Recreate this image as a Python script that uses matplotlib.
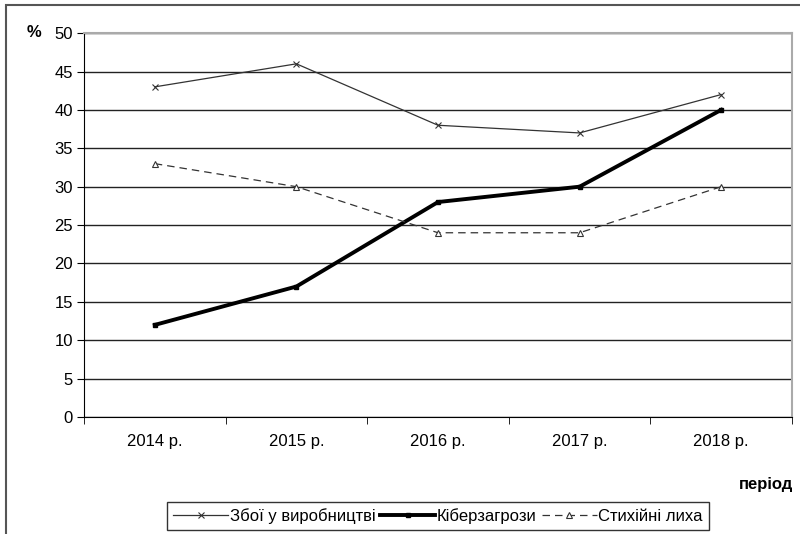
import matplotlib.pyplot as plt
from matplotlib.patches import Rectangle
from matplotlib.ticker import FixedLocator

plt.rcParams['font.family'] = ['Liberation Sans', 'DejaVu Sans']

periods = ["2014 р.", "2015 р.", "2016 р.", "2017 р.", "2018 р."]
failures = [43, 46, 38, 37, 42]
cyber = [12, 17, 28, 30, 40]
disasters = [33, 30, 24, 24, 30]

fig = plt.figure(figsize=(8, 5.34), dpi=100)
ax = fig.add_axes([0.105, 0.219, 0.885, 0.719])

# outer frame of the chart area
fig.patches.append(Rectangle((0.0075, -0.05), 1.2, 0.9906 + 0.05, transform=fig.transFigure,
                             fill=False, edgecolor="#555555", linewidth=1.5))

x = range(len(periods))
ax.plot(x, failures, color="#333333", linewidth=0.9, marker="x", markersize=4,
        markeredgewidth=0.8, label="Збої у виробництві")
ax.plot(x, cyber, color="black", linewidth=2.8, marker="s", markersize=3,
        label="Кіберзагрози")
ax.plot(x, disasters, color="#333333", linewidth=0.9, linestyle=(0, (6, 4)), marker="^",
        markersize=4, markerfacecolor="white", markeredgewidth=0.8, label="Стихійні лиха")

ax.set_xlim(-0.5, len(periods) - 0.5)
ax.set_ylim(0, 50)
ax.set_yticks(range(0, 51, 5))
ax.set_xticks(list(x))
ax.set_xticklabels(periods)
ax.tick_params(axis="x", which="major", length=0, pad=12)
ax.xaxis.set_minor_locator(FixedLocator([i - 0.5 for i in range(len(periods) + 1)]))
ax.tick_params(axis="x", which="minor", length=5, direction="out")
ax.tick_params(axis="y", length=5, direction="out", pad=3)
ax.tick_params(labelsize=12)

ax.grid(axis="y", color="#222222", linewidth=1)
ax.set_axisbelow(True)
ax.spines["top"].set_color("#aaaaaa")
ax.spines["right"].set_color("#aaaaaa")
ax.spines["top"].set_linewidth(1.5)
ax.spines["right"].set_linewidth(1.5)

fig.text(0.043, 0.94, "%", fontsize=12, fontweight="bold", ha="center", va="center")
fig.text(0.958, 0.093, "період", fontsize=12, fontweight="bold", ha="center", va="center")

leg = fig.legend(loc="center", bbox_to_anchor=(0.5475, 0.034), ncol=3, fontsize=12,
                 frameon=True, fancybox=False, edgecolor="black", handlelength=3.3,
                 handletextpad=0.1, columnspacing=0.3, borderpad=0.35)
leg.get_frame().set_linewidth(1)

fig.savefig("out.png", dpi=100)
